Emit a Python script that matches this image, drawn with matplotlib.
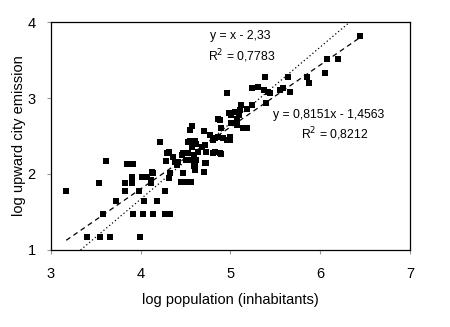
import matplotlib
matplotlib.use("Agg")
import matplotlib.pyplot as plt
import numpy as np

plt.rcParams['font.family'] = ['Liberation Sans', 'DejaVu Sans']

# log population vs log upward emission
log_pop = [3.17, 3.40, 3.55, 3.66, 3.99, 3.58, 3.72, 3.53, 3.61, 3.85, 3.91,
           3.82, 3.90, 3.82, 3.90, 3.98, 3.91, 4.03, 4.14, 4.27, 4.33,
           4.04, 4.18, 4.27, 4.01, 4.07, 4.13, 4.11, 4.12, 4.21, 4.33, 4.31,
           4.45, 4.50, 4.56, 4.47, 4.57, 4.28, 4.31, 4.36, 4.42,
           4.47, 4.53, 4.59, 4.53, 4.62, 4.51, 4.60, 4.70, 4.77, 4.81,
           4.72, 4.72, 4.70, 4.81, 4.90, 4.86, 4.88, 4.98, 5.03, 4.90,
           4.92, 4.99, 4.86, 4.55, 4.60, 4.68, 4.29, 4.46,
           4.57, 4.64, 4.73, 4.83, 4.88, 4.59, 4.62, 4.55, 4.73, 4.38, 4.40,
           4.59, 4.60, 4.14, 4.03, 4.96, 5.38, 5.24, 5.31, 5.37, 5.42, 5.44,
           5.40, 5.24, 5.18, 5.12, 5.11, 5.05, 5.09, 5.01, 5.07,
           5.14, 5.18, 4.83, 4.96, 6.44, 6.08, 6.20, 6.05, 5.85, 5.88, 5.64,
           5.55, 5.59, 5.66, 4.55, 4.99, 5.01, 5.07]
log_emis = [1.78, 1.17, 1.17, 1.17, 1.17, 1.48, 1.65, 1.88, 2.17, 2.13, 2.13,
            1.88, 1.88, 1.78, 1.96, 1.78, 1.48, 1.48, 1.48, 1.48, 1.48,
            1.65, 1.65, 1.77, 1.96, 1.96, 2.02, 1.92, 1.88, 2.42, 2.01, 1.95,
            1.89, 1.89, 1.89, 2.01, 2.63, 2.17, 2.29, 2.23, 2.16,
            2.27, 2.27, 2.25, 2.42, 2.40, 2.18, 2.10, 2.56, 2.51, 2.45,
            2.38, 2.14, 2.03, 2.27, 2.26, 2.73, 2.71, 2.80, 2.67, 2.60,
            2.47, 2.45, 2.49, 2.43, 2.43, 2.36, 2.27, 2.25,
            2.36, 2.29, 2.29, 2.29, 2.27, 2.23, 2.18, 2.18, 2.14, 2.16, 2.12,
            2.10, 2.05, 2.01, 1.96, 3.06, 3.28, 3.13, 3.15, 3.10, 3.08, 3.06,
            2.94, 2.91, 2.86, 2.91, 2.84, 2.82, 2.78, 2.78, 2.73,
            2.60, 2.60, 2.47, 2.45, 3.82, 3.51, 3.51, 3.33, 3.27, 3.20, 3.28,
            3.10, 3.13, 3.08, 2.58, 2.49, 2.67, 2.64]

fit_a, fit_b = 0.8151, -1.4563
ref_a, ref_b = 1.0, -2.33

fig = plt.figure(figsize=(4.5, 3.27), dpi=100)
ax = fig.add_axes([0.1133, 0.2355, 0.7977, 0.6972])

ax.plot(log_pop, log_emis, 's', color='black', markersize=4, markeredgewidth=0)

xs = np.array([min(log_pop), max(log_pop)])
ax.plot(xs, fit_a * xs + fit_b, color='black', lw=0.9, dashes=(4, 3))
xr = np.array([(1 - ref_b) / ref_a, (4 - ref_b) / ref_a])
ax.plot(xr, ref_a * xr + ref_b, color='black', lw=0.9, dashes=(1, 2))

ax.text(4.77, 3.82, "y = x - 2,33", fontsize=8.8, va='center')
ax.text(4.75, 3.55, "R$^2$ = 0,7783", fontsize=8.8, va='center')
ax.text(5.47, 2.78, "y = 0,8151x - 1,4563", fontsize=8.8, va='center')
ax.text(5.79, 2.53, "R$^2$ = 0,8212", fontsize=8.8, va='center')

ax.set_xlim(3, 7)
ax.set_ylim(1, 4)
ax.set_xticks([3, 4, 5, 6, 7])
ax.set_yticks([1, 2, 3, 4])
ax.tick_params(direction='out', length=3, color='#999999', labelsize=10.5)
ax.tick_params(axis='x', pad=9)
ax.tick_params(axis='y', pad=8)
for s in ax.spines.values():
    s.set_color('black')
    s.set_linewidth(0.9)

ax.set_xlabel("log population (inhabitants)", fontsize=10.5, va='center')
ax.set_ylabel("log upward city emission", fontsize=10.5, va='center')
ax.xaxis.set_label_coords(0.5, -0.219)
ax.yaxis.set_label_coords(-0.09, 0.5)

fig.savefig("out.png", dpi=100)
